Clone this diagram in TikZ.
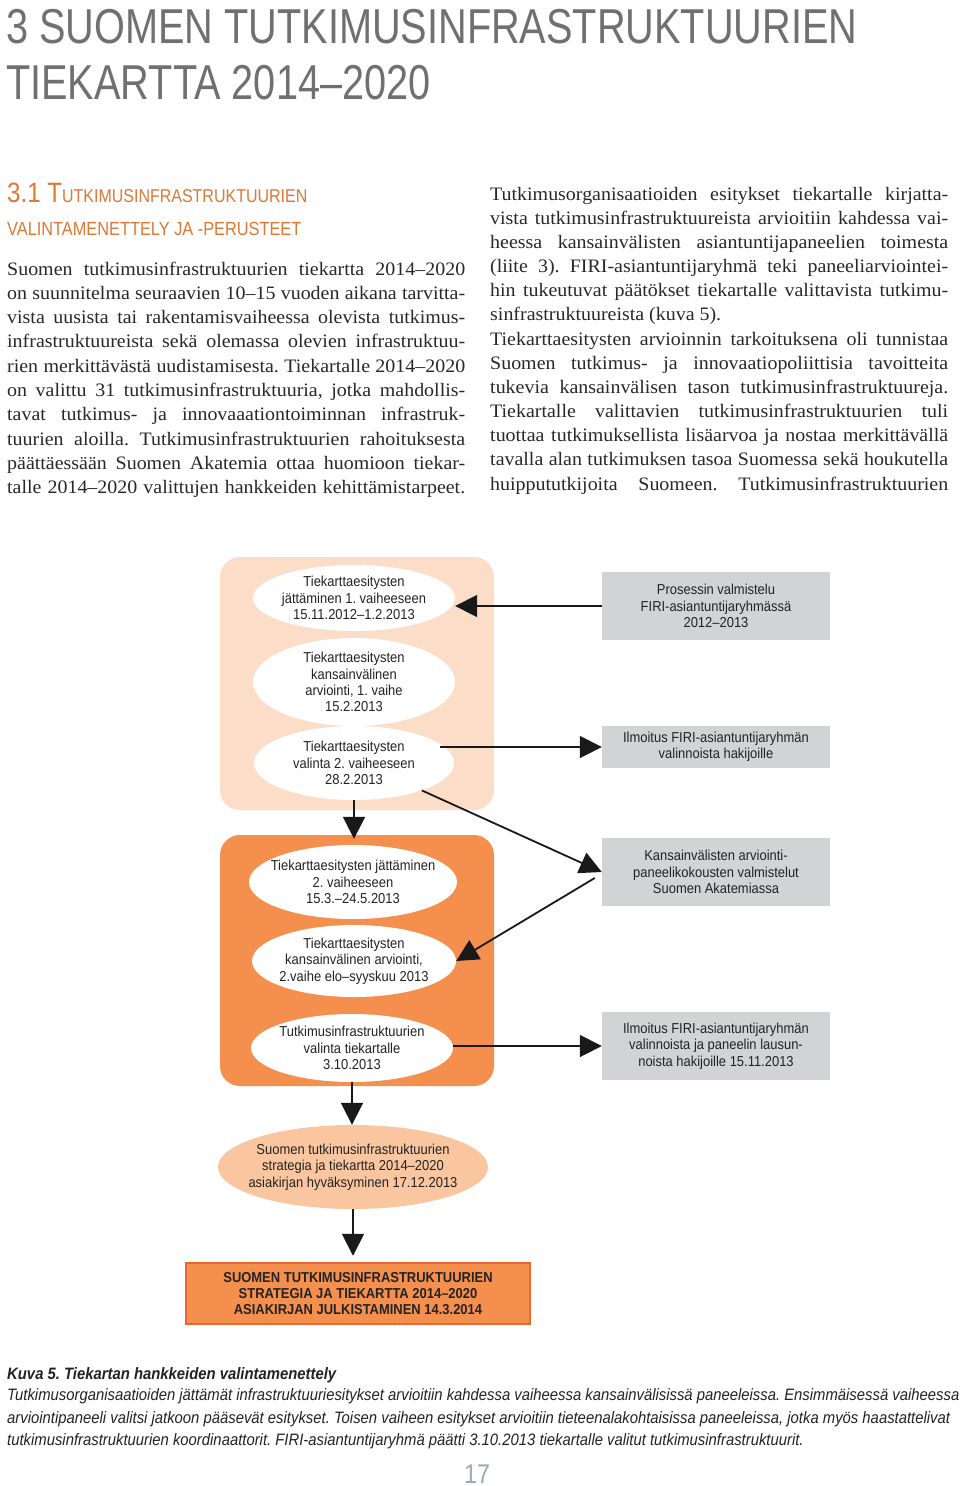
\documentclass[tikz,border=0pt]{standalone}
\usepackage{fontspec}
\setmainfont[FakeStretch=1.05]{Liberation Serif}
\newfontfamily\titlefont[FakeStretch=0.81]{Liberation Sans}
\newfontfamily\headfont[FakeStretch=0.86]{Liberation Sans}
\newfontfamily\diagfont[FakeStretch=0.9]{Liberation Sans}
\newfontfamily\capfont[FakeStretch=0.9]{Liberation Sans}
\usetikzlibrary{shapes.geometric,arrows.meta}
\definecolor{titlegray}{RGB}{112,112,112}
\definecolor{headorange}{RGB}{222,120,52}
\definecolor{bodytext}{RGB}{40,40,40}
\definecolor{lightpeach}{RGB}{252,222,200}
\definecolor{darkorange}{RGB}{245,143,78}
\definecolor{ellpeach}{RGB}{249,198,160}
\definecolor{boxgray}{RGB}{210,211,213}
\definecolor{finalborder}{RGB}{234,104,48}
\definecolor{pagenum}{RGB}{150,170,185}
\definecolor{diagtext}{RGB}{35,35,35}
\definecolor{arrowcol}{RGB}{25,25,25}
\newcommand{\jl}[1]{\makebox[458pt][s]{#1}}
\frenchspacing
\begin{document}
\begin{tikzpicture}[x=1pt,y=-1pt,
  bodyline/.style={inner sep=0pt, anchor=base west, text=bodytext, font=\fontsize{19}{24}\selectfont},
  ell/.style={ellipse, fill=white, inner sep=0pt, draw=none},
  dtext/.style={align=center, text=diagtext, inner sep=0pt, font=\diagfont\fontsize{14.4}{16.3}\selectfont},
  gbox/.style={rectangle, fill=boxgray, minimum width=228pt, inner sep=0pt, align=center, text=diagtext, font=\diagfont\fontsize{14.4}{16.3}\selectfont},
  panel/.style={rectangle, rounded corners=20pt, minimum width=274pt, inner sep=0pt},
  arr/.style={draw=arrowcol, line width=1.8pt, -{Triangle[length=22pt,width=22pt]}},
  capline/.style={inner sep=0pt, anchor=base west, text=diagtext, font=\capfont\itshape\fontsize{16.5}{20}\selectfont}
]
\useasboundingbox (0,0) rectangle (960,1486);
\fill[white] (0,0) rectangle (960,1486);

% Title
\node[anchor=base west, inner sep=0pt, text=titlegray, font=\titlefont\fontsize{49}{49}\selectfont] (title1) at (6,43) {3 SUOMEN TUTKIMUSINFRASTRUKTUURIEN};
\node[anchor=base west, inner sep=0pt, text=titlegray, font=\titlefont\fontsize{49}{49}\selectfont] (title2) at (6,99) {TIEKARTTA 2014–2020};

% Section heading
\node[anchor=base west, inner sep=0pt, text=headorange, font=\headfont] (head1) at (7,202) {{\fontsize{28}{28}\selectfont 3.1 T}{\fontsize{18.6}{19}\selectfont UTKIMUSINFRASTRUKTUURIEN}};
\node[anchor=base west, inner sep=0pt, text=headorange, font=\headfont\fontsize{19}{19}\selectfont] (head2) at (7,235) {VALINTAMENETTELY JA -PERUSTEET};

% Left column
\node[bodyline] (l1) at (7,275) {\jl{Suomen tutkimusinfrastruktuurien tiekartta 2014–2020}};
\node[bodyline] (l2) at (7,299.3) {\jl{on suunnitelma seuraavien 10–15 vuoden aikana tarvitta-}};
\node[bodyline] (l3) at (7,323.6) {\jl{vista uusista tai rakentamisvaiheessa olevista tutkimus-}};
\node[bodyline] (l4) at (7,347.9) {\jl{infrastruktuureista sekä olemassa olevien infrastruktuu-}};
\node[bodyline] (l5) at (7,372.2) {\jl{rien merkittävästä uudistamisesta. Tiekartalle 2014–2020}};
\node[bodyline] (l6) at (7,396.5) {\jl{on valittu 31 tutkimusinfrastruktuuria, jotka mahdollis-}};
\node[bodyline] (l7) at (7,420.8) {\jl{tavat tutkimus- ja innovaaationtoiminnan infrastruk-}};
\node[bodyline] (l8) at (7,445.1) {\jl{tuurien aloilla. Tutkimusinfrastruktuurien rahoituksesta}};
\node[bodyline] (l9) at (7,469.4) {\jl{päättäessään Suomen Akatemia ottaa huomioon tiekar-}};
\node[bodyline] (l10) at (7,493.7) {\jl{talle 2014–2020 valittujen hankkeiden kehittämistarpeet.}};

% Right column
\node[bodyline] (r1) at (490,200) {\jl{Tutkimusorganisaatioiden esitykset tiekartalle kirjatta-}};
\node[bodyline] (r2) at (490,224.2) {\jl{vista tutkimusinfrastruktuureista arvioitiin kahdessa vai-}};
\node[bodyline] (r3) at (490,248.3) {\jl{heessa kansainvälisten asiantuntijapaneelien toimesta}};
\node[bodyline] (r4) at (490,272.5) {\jl{(liite 3). FIRI-asiantuntijaryhmä teki paneeliarviointei-}};
\node[bodyline] (r5) at (490,296.7) {\jl{hin tukeutuvat päätökset tiekartalle valittavista tutkimu-}};
\node[bodyline] (r6) at (490,320.9) {sinfrastruktuureista (kuva 5).};
\node[bodyline] (r7) at (490,345) {\jl{Tiekarttaesitysten arvioinnin tarkoituksena oli tunnistaa}};
\node[bodyline] (r8) at (490,369.2) {\jl{Suomen tutkimus- ja innovaatiopoliittisia tavoitteita}};
\node[bodyline] (r9) at (490,393.4) {\jl{tukevia kansainvälisen tason tutkimusinfrastruktuureja.}};
\node[bodyline] (r10) at (490,417.5) {\jl{Tiekartalle valittavien tutkimusinfrastruktuurien tuli}};
\node[bodyline] (r11) at (490,441.7) {\jl{tuottaa tutkimuksellista lisäarvoa ja nostaa merkittävällä}};
\node[bodyline] (r12) at (490,465.9) {\jl{tavalla alan tutkimuksen tasoa Suomessa sekä houkutella}};
\node[bodyline] (r13) at (490,490) {\jl{huippututkijoita Suomeen. Tutkimusinfrastruktuurien}};

% Diagram panels
\node[panel, fill=lightpeach, minimum height=253pt] (p1) at (357,683.5) {};
\node[panel, fill=darkorange, minimum height=251pt] (p2) at (357,960.5) {};

% Ellipses
\node[ell, minimum width=202pt, minimum height=66pt] (e1) at (354,598) {};
\node[dtext] (t1) at (e1) {Tiekarttaesitysten\\jättäminen 1. vaiheeseen\\15.11.2012–1.2.2013};
\node[ell, minimum width=202pt, minimum height=88pt] (e2) at (354,682) {};
\node[dtext] (t2) at (e2) {Tiekarttaesitysten\\kansainvälinen\\arviointi, 1. vaihe\\15.2.2013};
\node[ell, minimum width=200pt, minimum height=74pt] (e3) at (354,763) {};
\node[dtext] (t3) at (e3) {Tiekarttaesitysten\\valinta 2. vaiheeseen\\28.2.2013};

\node[ell, minimum width=208pt, minimum height=74pt] (e4) at (353,882) {};
\node[dtext] (t4) at (e4) {Tiekarttaesitysten jättäminen\\2. vaiheeseen\\15.3.–24.5.2013};
\node[ell, minimum width=204pt, minimum height=72pt] (e5) at (354,961) {};
\node[dtext] (t5) at (e5) {Tiekarttaesitysten\\kansainvälinen arviointi,\\2.vaihe elo–syyskuu 2013};
\node[ell, minimum width=202pt, minimum height=68pt] (e6) at (352,1048) {};
\node[dtext] (t6) at (e6) {Tutkimusinfrastruktuurien\\valinta tiekartalle\\3.10.2013};

\node[ellipse, fill=ellpeach, inner sep=0pt, minimum width=270pt, minimum height=84pt] (e7) at (353,1167) {};
\node[dtext] (t7) at (e7) {Suomen tutkimusinfrastruktuurien\\strategia ja tiekartta 2014–2020\\asiakirjan hyväksyminen 17.12.2013};

\node[rectangle, fill=darkorange, draw=finalborder, line width=2.5pt, minimum width=344pt, minimum height=61pt, inner sep=0pt] (fin) at (358,1293.5) {};
\node[dtext, font=\diagfont\bfseries\fontsize{14.4}{16.3}\selectfont] (tfin) at (fin) {SUOMEN TUTKIMUSINFRASTRUKTUURIEN\\STRATEGIA JA TIEKARTTA 2014–2020\\ASIAKIRJAN JULKISTAMINEN 14.3.2014};

% Gray boxes
\node[gbox, minimum height=68pt] (b1) at (716,606) {Prosessin valmistelu\\FIRI-asiantuntijaryhmässä\\2012–2013};
\node[gbox, minimum height=42pt] (b2) at (716,747) {Ilmoitus FIRI-asiantuntijaryhmän\\valinnoista hakijoille};
\node[gbox, minimum height=68pt] (b3) at (716,872) {Kansainvälisten arviointi-\\paneelikokousten valmistelut\\Suomen Akatemiassa};
\node[gbox, minimum height=68pt] (b4) at (716,1046) {Ilmoitus FIRI-asiantuntijaryhmän\\valinnoista ja paneelin lausun-\\noista hakijoille 15.11.2013};

% Connectors
\draw[arr] (b1.west) -- (b1.west -| e1.east);
\path (e3.east |- b2.west) ++(-14,0) coordinate (a2s);
\draw[arr] (a2s) -- (b2.west);
\draw[arr] (e3.-22) -- (b3.west);
\path (b3.west) ++(-7,6) coordinate (a4s);
\draw[arr] (a4s) -- (e5.east);
\draw[arr] (e6.east |- b4.west) -- (b4.west);

\path (e3.south |- p2.north) ++(0,4) coordinate (v1end);
\draw[arr] (e3.south) -- (v1end);
\draw[arr] (e6.south) -- (e6.south |- e7.north);
\path (e7.south |- fin.north) ++(0,-6) coordinate (v3end);
\draw[arr] (e7.south) -- (v3end);

% Caption
\node[anchor=base west, inner sep=0pt, text=diagtext, font=\capfont\bfseries\itshape\fontsize{16.5}{20}\selectfont] (cap0) at (7,1379) {Kuva 5. Tiekartan hankkeiden valintamenettely};
\node[capline] (cap1) at (7,1400) {Tutkimusorganisaatioiden jättämät infrastruktuuriesitykset arvioitiin kahdessa vaiheessa kansainvälisissä paneeleissa. Ensimmäisessä vaiheessa};
\node[capline] (cap2) at (7,1423) {arviointipaneeli valitsi jatkoon pääsevät esitykset. Toisen vaiheen esitykset arvioitiin tieteenalakohtaisissa paneeleissa, jotka myös haastattelivat};
\node[capline] (cap3) at (7,1445) {tutkimusinfrastruktuurien koordinaattorit. FIRI-asiantuntijaryhmä päätti 3.10.2013 tiekartalle valitut tutkimusinfrastruktuurit.};

% Page number
\node[inner sep=0pt, anchor=base, text=pagenum, font=\headfont\fontsize{27}{27}\selectfont] (pnum) at (477,1483) {17};
\end{tikzpicture}
\end{document}
